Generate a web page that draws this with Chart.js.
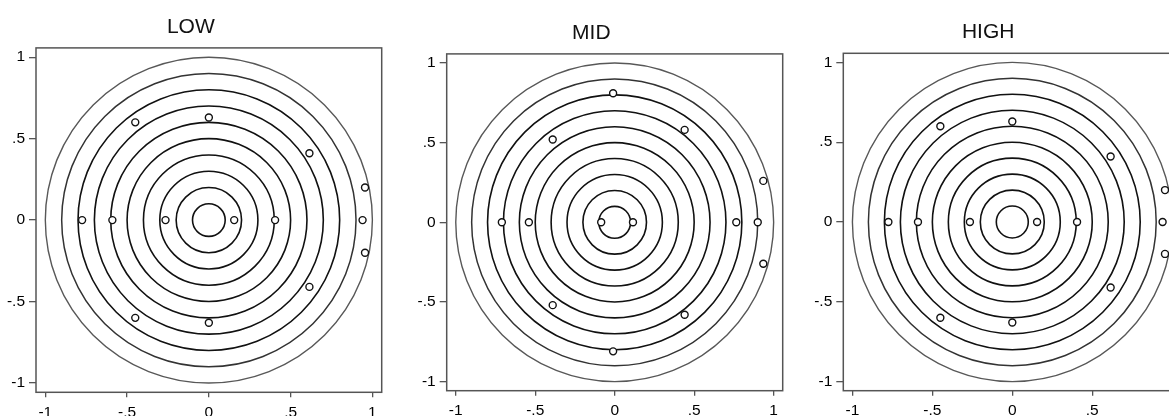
<!DOCTYPE html>
<html>
<head>
<meta charset="utf-8">
<script src="https://cdn.jsdelivr.net/npm/chart.js@4/dist/chart.umd.min.js"></script>
<style>
  html, body { margin: 0; padding: 0; width: 1169px; height: 416px; overflow: hidden; background: #fff; }
  canvas { position: absolute; top: 0; }
</style>
</head>
<body>
<canvas id="panelLow"></canvas>
<canvas id="panelMid"></canvas>
<canvas id="panelHigh"></canvas>
<script>
// ---- data ----
const panelTitles = ['LOW', 'MID', 'HIGH'];
const ringRadii = [0.1, 0.2, 0.3, 0.4, 0.5, 0.6, 0.7, 0.8, 0.9, 1.0];
const tickValues = [-1, -0.5, 0, 0.5, 1];
const tickLabels = ['-1', '-.5', '0', '.5', '1'];

const lowX  = [-0.775, -0.59, -0.265, 0.155, 0.405, 0.94, 0, 0, -0.45, -0.45, 0.615, 0.615, 0.955, 0.955];
const lowY  = [0, 0, 0, 0, 0, 0, 0.63, -0.63, 0.6, -0.6, 0.41, -0.41, 0.2, -0.2];

const midX  = [-0.71, -0.54, -0.085, 0.115, 0.765, 0.9, -0.01, -0.01, 0.44, 0.44, -0.39, -0.39, 0.935, 0.935];
const midY  = [0, 0, 0, 0, 0, 0, 0.81, -0.81, 0.58, -0.58, 0.52, -0.52, 0.26, -0.26];

const highX = [-0.775, -0.59, -0.265, 0.155, 0.405, 0.94, 0, 0, -0.45, -0.45, 0.615, 0.615, 0.955, 0.955];
const highY = [0, 0, 0, 0, 0, 0, 0.63, -0.63, 0.6, -0.6, 0.41, -0.41, 0.2, -0.2];

// ---- layout of the three panels (pixels) ----
const CANVAS_H = 416;
const panels = [
  { id: 'panelLow',  xs: lowX,  ys: lowY,  left: 0,   width: 395, yAxisW: 36,   padRight: 13.3, titleTop: 14.5, titleBottom: 8.2, xAxisH: 23.7 },
  { id: 'panelMid',  xs: midX,  ys: midY,  left: 400, width: 395, yAxisW: 46.7, padRight: 12.3, titleTop: 20.8, titleBottom: 7.9, xAxisH: 25.3 },
  { id: 'panelHigh', xs: highX, ys: highY, left: 795, width: 400, yAxisW: 48.3, padRight: 13.7, titleTop: 19.8, titleBottom: 8.3, xAxisH: 25.3 }
];

const FONT = "'Liberation Sans', Arial, Helvetica, sans-serif";
const AXIS_MIN = -1.057, AXIS_MAX = 1.057;
const TICK_SIZE = 15.5;

// concentric reference rings, sized through the chart's own scales
const ringsPlugin = {
  id: 'rings',
  beforeDatasetsDraw(chart) {
    const { ctx, chartArea, scales: { x, y } } = chart;
    const cx = x.getPixelForValue(0), cy = y.getPixelForValue(0);
    ctx.save();
    ctx.beginPath();
    ctx.rect(chartArea.left, chartArea.top, chartArea.width, chartArea.height);
    ctx.clip();
    ringRadii.forEach(r => {
      const rx = Math.abs(x.getPixelForValue(r) - cx);
      const ry = Math.abs(y.getPixelForValue(r) - cy);
      ctx.beginPath();
      ctx.ellipse(cx, cy, rx, ry, 0, 0, Math.PI * 2);
      if (r >= 0.95)      { ctx.strokeStyle = '#585858'; ctx.lineWidth = 1.4; }
      else if (r >= 0.85) { ctx.strokeStyle = '#333';    ctx.lineWidth = 1.5; }
      else                { ctx.strokeStyle = '#111';    ctx.lineWidth = 1.6; }
      ctx.stroke();
    });
    ctx.restore();
  }
};

// plot-region frame on all four sides
const framePlugin = {
  id: 'frame',
  afterDraw(chart) {
    const { ctx, chartArea: a } = chart;
    ctx.save();
    ctx.strokeStyle = '#555';
    ctx.lineWidth = 1.5;
    ctx.strokeRect(a.left, a.top, a.right - a.left, a.bottom - a.top);
    ctx.restore();
  }
};

function setFixedTicks(scale) {
  scale.ticks = tickValues.map(v => ({ value: v }));
}

panels.forEach((p, i) => {
  const canvas = document.getElementById(p.id);
  canvas.style.left = p.left + 'px';
  canvas.width = p.width;
  canvas.height = CANVAS_H;
  canvas.style.width = p.width + 'px';
  canvas.style.height = CANVAS_H + 'px';

  new Chart(canvas.getContext('2d'), {
    type: 'scatter',
    data: {
      datasets: [{
        data: p.xs.map((v, k) => ({ x: v, y: p.ys[k] })),
        pointStyle: 'circle',
        pointRadius: 3.5,
        pointHoverRadius: 3.5,
        pointBorderWidth: 1.4,
        pointBackgroundColor: '#fff',
        pointBorderColor: '#111',
        showLine: false
      }]
    },
    options: {
      responsive: false,
      animation: false,
      events: [],
      layout: { padding: { left: 0, right: p.padRight, top: 0, bottom: 0 } },
      plugins: {
        legend: { display: false },
        tooltip: { enabled: false },
        title: {
          display: true,
          text: panelTitles[i],
          color: '#111',
          font: { family: FONT, size: 21, weight: 'normal', lineHeight: 1.2 },
          padding: { top: p.titleTop, bottom: p.titleBottom }
        }
      },
      scales: {
        x: {
          type: 'linear',
          min: AXIS_MIN, max: AXIS_MAX,
          afterBuildTicks: setFixedTicks,
          afterFit(scale) { scale.height = p.xAxisH; },
          grid: { drawOnChartArea: false, drawTicks: true, tickLength: 5, color: '#555', lineWidth: 1.3 },
          border: { display: false },
          ticks: {
            autoSkip: false, maxRotation: 0, padding: 6,
            color: '#000',
            font: { family: FONT, size: TICK_SIZE },
            callback: (v, idx) => tickLabels[idx]
          }
        },
        y: {
          type: 'linear',
          min: AXIS_MIN, max: AXIS_MAX,
          afterBuildTicks: setFixedTicks,
          afterFit(scale) { scale.width = p.yAxisW; },
          grid: { drawOnChartArea: false, drawTicks: true, tickLength: 7, color: '#555', lineWidth: 1.3 },
          border: { display: false },
          ticks: {
            autoSkip: false, padding: 4,
            color: '#000',
            font: { family: FONT, size: TICK_SIZE },
            callback: (v, idx) => tickLabels[idx]
          }
        }
      }
    },
    plugins: [ringsPlugin, framePlugin]
  });
});
</script>
</body>
</html>
